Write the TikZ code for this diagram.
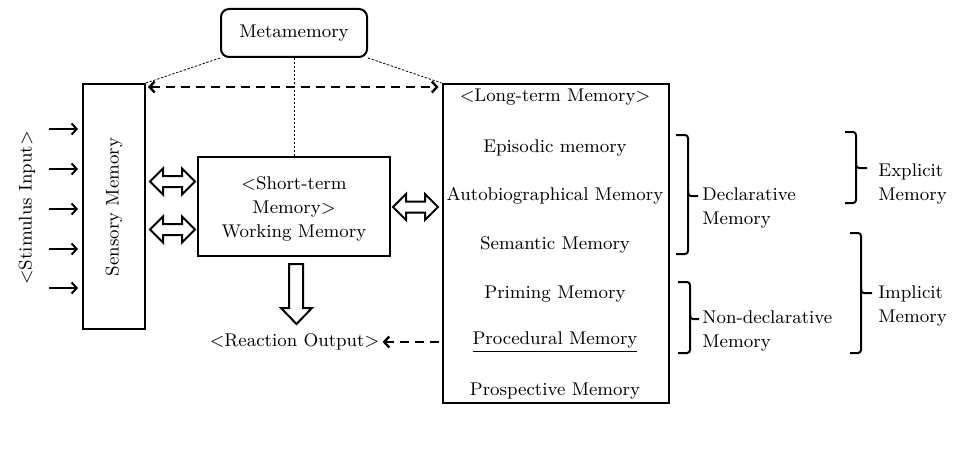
\documentclass[tikz,border=0pt]{standalone}
\usetikzlibrary{arrows.meta,calc}
\begin{document}
\begin{tikzpicture}[x=0.5pt,y=-0.5pt,
  every node/.style={font=\fontsize{9.2}{12}\selectfont, inner sep=0pt},
  box/.style={draw, line width=1pt},
  dotline/.style={line width=0.4pt, dash pattern=on 1.2pt off 0.8pt},
  dasharrow/.style={line width=1.2pt, dash pattern=on 4.5pt off 3pt, {Straight Barb[length=2.5pt,width=5.5pt]}-{Straight Barb[length=2.5pt,width=5.5pt]}},
  dasharrowl/.style={line width=1.2pt, dash pattern=on 4.5pt off 3pt, -{Straight Barb[length=2.5pt,width=5.5pt]}},
  stim/.style={line width=1pt, -{Straight Barb[length=2.5pt,width=5.5pt]}},
  hollow/.style={draw, line width=1pt, line join=miter},
  bracepath/.style={line width=1pt, rounded corners=1.5pt},
  item/.style={anchor=center}]
\useasboundingbox (0,0) rectangle (968,460);

% main boxes
\node[box, rounded corners=4pt, minimum width=73pt, minimum height=24pt] (meta) at (294,33) {Metamemory};
\node[box, minimum width=31pt, minimum height=122.5pt] (sens) at (114,206.5) {};
\node[rotate=90] (senstext) at (114,207) {Sensory Memory};
\node[box, minimum width=96pt, minimum height=49.5pt, align=center] (stm) at (294,206.5) {};
\node[align=center] (stmtext) at (294,208.5) {<Short-term\\Memory>\\Working Memory};
\node[box, minimum width=113pt, minimum height=159.5pt] (ltm) at (555.5,243.5) {};

% long-term items
\node[item] (lt0) at (555,97) {<Long-term Memory>};
\node[item] (lt1) at (555,148) {Episodic memory};
\node[item] (lt2) at (555,196) {Autobiographical Memory};
\node[item] (lt3) at (555,245) {Semantic Memory};
\node[item] (lt4) at (555,294) {Priming Memory};
\node[item] (lt5) at (555,342) {\underline{Procedural Memory}};
\node[item] (lt6) at (555,391) {Prospective Memory};

% stimulus
\node[rotate=90] (stimtext) at (27,208) {<Stimulus Input>};
\foreach \i/\yy in {1/129,2/169,3/209,4/249,5/288}{
  \coordinate (sa\i) at (49,\yy);
  \coordinate (sb\i) at (78,\yy);
  \draw[stim] (sa\i) -- (sb\i);
}

% metamemory links
\draw[dotline] (meta.south west) -- (sens.north east);
\draw[dotline] (meta.south) -- (stm.north);
\draw[dotline] (meta.south east) -- (ltm.north west);
\draw[dasharrow] ([xshift=1pt,yshift=-2pt]sens.north east) -- ([xshift=-1.5pt,yshift=-2pt]ltm.north west);

% hollow double arrows (x0, x1, cy)
\foreach \xa/\xb/\cy in {150/195/181.5, 150/195/229.5, 393/438/207}{
  \draw[hollow] (\xa,\cy) -- (\xa+13,\cy-13) -- (\xa+13,\cy-5.5) -- (\xb-13,\cy-5.5)
    -- (\xb-13,\cy-13) -- (\xb,\cy) -- (\xb-13,\cy+13) -- (\xb-13,\cy+5.5)
    -- (\xa+13,\cy+5.5) -- (\xa+13,\cy+13) -- cycle;
}
% hollow down arrow
\draw[hollow] (289,264) -- (303,264) -- (303,308) -- (312,308) -- (296.5,324)
  -- (281,308) -- (289,308) -- cycle;

% reaction output
\node (react) at (294.5,342) {<Reaction Output>};
\coordinate (rstart) at ([xshift=-1.5pt]ltm.west |- react.east);
\draw[dasharrowl] (rstart) -- ([xshift=1.5pt]react.east);

% braces
\draw[bracepath] (676,135) -- (688,135) -- (688,196) -- (698,196);
\draw[bracepath] (688,190) -- (688,254) -- (676,254);
\draw[bracepath] (678,282) -- (690,282) -- (690,319) -- (699,319);
\draw[bracepath] (690,313) -- (690,353) -- (678,353);
\draw[bracepath] (845,132) -- (856,132) -- (856,168) -- (867,168);
\draw[bracepath] (856,162) -- (856,203) -- (845,203);
\draw[bracepath] (850,233) -- (861,233) -- (861,293) -- (872,293);
\draw[bracepath] (861,287) -- (861,353) -- (850,353);

% brace labels
\node[anchor=west, align=left] (decl) at (702,208) {Declarative\\Memory};
\node[anchor=west, align=left] (nondecl) at (702,331) {Non-declarative\\Memory};
\node[anchor=west, align=left] (expl) at (878,184) {Explicit\\Memory};
\node[anchor=west, align=left] (impl) at (878,306) {Implicit\\Memory};
\end{tikzpicture}
\end{document}
